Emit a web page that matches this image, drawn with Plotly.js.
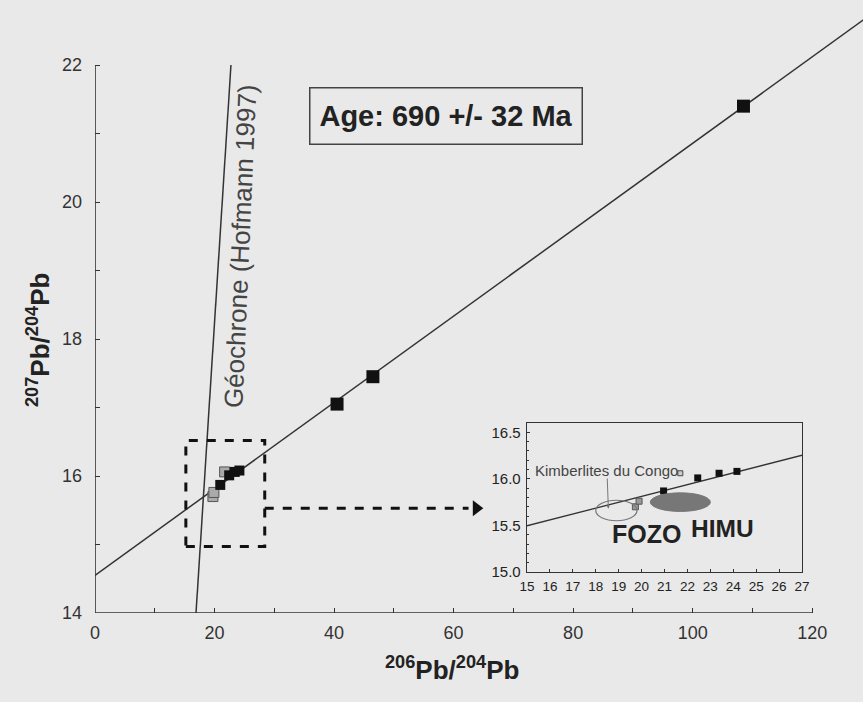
<!DOCTYPE html>
<html>
<head>
<meta charset="utf-8">
<script src="https://cdn.plot.ly/plotly-3.0.1.min.js"></script>
<style>html,body{margin:0;padding:0;background:#e9e9e9;}</style>
</head>
<body>
<div id="chart" style="width:863px;height:702px;"></div>
<script>
// Isochron (regression) line
const isoX = [0, 130];
const isoY = [14.55, 22.75];
// Geochron (Hofmann 1997)
const geoX = [16.9, 22.75];
const geoY = [14, 22];
// Large samples (main plot)
const bigX = [40.5, 46.5, 108.5];
const bigY = [17.05, 17.45, 21.4];
// Low-ratio samples (black)
const blackX = [20.96, 22.45, 23.38, 24.16];
const blackY = [15.87, 16.01, 16.06, 16.08];
// Kimberlites du Congo (grey)
const greyX = [19.73, 19.89];
const greyY = [15.70, 15.76];
const openX = [21.69];
const openY = [16.06];
// Axis ticks
const xTicks = [0,10,20,30,40,50,60,70,80,90,100,110,120];
const xTickText = ['0',' ','20',' ','40',' ','60',' ','80',' ','100',' ','120'];
const yTicks = [14,15,16,17,18,19,20,21,22];
const yTickText = ['14',' ','16',' ','18',' ','20',' ','22'];
const insetXTicks = [15,16,17,18,19,20,21,22,23,24,25,26,27];
const insetYTicks = [15.0,15.5,16.0,16.5];
// Arrow tip position
const arrowX = [63.8];
const arrowY = [15.53];

const ink = '#333';
const font = '"Liberation Sans", Arial, sans-serif';

const traces = [
  {x: isoX, y: isoY, mode:'lines', line:{color:ink, width:1.5}, xaxis:'x', yaxis:'y', hoverinfo:'skip'},
  {x: geoX, y: geoY, mode:'lines', line:{color:ink, width:1.5}, xaxis:'x', yaxis:'y', hoverinfo:'skip'},
  {x: bigX, y: bigY, mode:'markers', marker:{symbol:'square', size:13, color:'#111'}, xaxis:'x', yaxis:'y'},
  {x: greyX, y: greyY, mode:'markers', marker:{symbol:'square', size:10, color:'#aaa', line:{color:'#555', width:1}}, xaxis:'x', yaxis:'y'},
  {x: openX, y: openY, mode:'markers', marker:{symbol:'square', size:10, color:'#aaa', line:{color:'#555', width:1}}, xaxis:'x', yaxis:'y'},
  {x: blackX, y: blackY, mode:'markers', marker:{symbol:'square', size:10, color:'#111'}, xaxis:'x', yaxis:'y'},
  {x: arrowX, y: arrowY, mode:'markers', marker:{symbol:'triangle-right', size:14, color:'#111'}, xaxis:'x', yaxis:'y'},
  // inset
  {x: isoX, y: isoY, mode:'lines', line:{color:ink, width:1.3}, xaxis:'x2', yaxis:'y2', hoverinfo:'skip'},
  {x: greyX, y: greyY, mode:'markers', marker:{symbol:'square', size:6, color:'#999', line:{color:'#555', width:1}}, xaxis:'x2', yaxis:'y2'},
  {x: openX, y: openY, mode:'markers', marker:{symbol:'square', size:5, color:'#ccc', line:{color:'#444', width:1}}, xaxis:'x2', yaxis:'y2'},
  {x: blackX, y: blackY, mode:'markers', marker:{symbol:'square', size:7, color:'#111'}, xaxis:'x2', yaxis:'y2'}
];

const layout = {
  width: 863, height: 702,
  margin: {l:95, r:0, t:0, b:89},
  paper_bgcolor:'#e9e9e9', plot_bgcolor:'rgba(0,0,0,0)',
  showlegend:false,
  font:{family:font, color:ink},
  xaxis: {range:[0,128.5], tickvals:xTicks, ticktext:xTickText, ticks:'inside', ticklen:5, tickcolor:ink,
          showgrid:false, zeroline:false, showline:false, tickfont:{size:18, color:ink}, ticklabelstandoff:7},
  yaxis: {range:[14,22.95], tickvals:yTicks, ticktext:yTickText, ticks:'inside', ticklen:5, tickcolor:ink,
          showgrid:false, zeroline:false, showline:false, tickfont:{size:18, color:ink}, ticklabelstandoff:12},
  xaxis2: {domain:[0.5625,0.9206], anchor:'y2', range:[15,27], tickvals:insetXTicks, ticks:'inside', ticklen:3, tickcolor:ink,
           showline:true, mirror:true, linecolor:ink, linewidth:1.3, showgrid:false, zeroline:false,
           tickfont:{size:13.5, color:'#222'}, ticklabelstandoff:2},
  yaxis2: {domain:[0.0669,0.31], anchor:'x2', range:[15.0,16.6], tickvals:insetYTicks, tickformat:'.1f', ticks:'inside', ticklen:3, tickcolor:ink,
           minor:{dtick:0.1, ticks:'inside', ticklen:2, tickcolor:ink},
           showline:true, mirror:true, linecolor:ink, linewidth:1.3, showgrid:false, zeroline:false,
           tickfont:{size:15, color:'#222'}, ticklabelstandoff:2},
  shapes: [
    {type:'line', xref:'x', yref:'y', x0:0, x1:120, y0:14, y1:14, line:{color:ink, width:1.6}},
    {type:'line', xref:'x', yref:'y', x0:0, x1:0, y0:14, y1:22, line:{color:ink, width:1.6}},
    {type:'rect', xref:'x', yref:'y', x0:15.2, x1:28.4, y0:14.97, y1:16.52, line:{color:'#111', width:3, dash:'dash'}},
    {type:'line', xref:'x', yref:'y', x0:28.4, x1:62.5, y0:15.53, y1:15.53, line:{color:'#111', width:3, dash:'dash'}},
    {type:'circle', xref:'x2', yref:'y2', x0:18.0, x1:19.8, y0:15.55, y1:15.77, line:{color:'#777', width:1.2}},
    {type:'circle', xref:'x2', yref:'y2', x0:20.38, x1:23.0, y0:15.65, y1:15.85, fillcolor:'#777', line:{color:'#777', width:1}}
  ],
  annotations: [
    {xref:'x', yref:'y', x:58.7, y:21.26, text:'<b>Age: 690 +/- 32 Ma</b>', showarrow:false,
     font:{size:29, color:'#222'}, bordercolor:'#444', borderwidth:1.5, borderpad:0, width:271, height:55},
    {xref:'x', yref:'y', x:24.3, y:19.36, text:'Géochrone (Hofmann 1997)', showarrow:false, textangle:-87.5,
     font:{size:26, color:'#444'}},
    {xref:'paper', yref:'paper', x:(452-95)/768, y:-(668-613)/613, xanchor:'center', yanchor:'middle',
     text:'<b><sup>206</sup>Pb/<sup>204</sup>Pb</b>', showarrow:false, font:{size:26, color:'#222'}},
    {xref:'paper', yref:'paper', x:-(95-38)/768, y:(613-340)/613, xanchor:'center', yanchor:'middle',
     text:'<b><sup>207</sup>Pb/<sup>204</sup>Pb</b>', showarrow:false, textangle:-90, font:{size:26, color:'#222'}},
    {xref:'x2', yref:'y2', x:15.25, y:16.09, xanchor:'left', yanchor:'middle', text:'Kimberlites du Congo', showarrow:false,
     font:{size:15, color:'#444'}},
    {xref:'x2', yref:'y2', x:18.55, y:15.68, axref:'x2', ayref:'y2', ax:18.5, ay:16.02, text:'', showarrow:true,
     arrowhead:2, arrowsize:0.6, arrowwidth:1, arrowcolor:'#777'},
    {xref:'x2', yref:'y2', x:20.2, y:15.41, text:'<b>FOZO</b>', showarrow:false, font:{size:25, color:'#222'}},
    {xref:'x2', yref:'y2', x:23.55, y:15.47, text:'<b>HIMU</b>', showarrow:false, font:{size:24.5, color:'#222'}}
  ]
};

Plotly.newPlot('chart', traces, layout, {displayModeBar:false, staticPlot:true});
</script>
</body>
</html>
